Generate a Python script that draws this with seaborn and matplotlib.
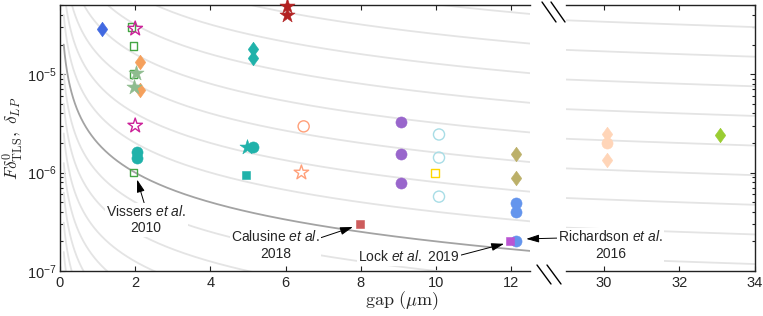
"""
Loss tangent vs. gap width, with a broken x axis.
Background curves are delta ~ level / gap guide lines.
"""

import matplotlib
matplotlib.use('Agg')
import matplotlib.pyplot as plt
from matplotlib.lines import Line2D
import seaborn as sns
import numpy as np
import pandas as pd

# ============================================
# DATA
# ============================================

# guide curves: delta = level / gap  (level in um)
CURVE_LEVELS = [7.8e-9, 1.56e-8, 3.1e-8, 6.25e-8, 1.25e-7, 2.5e-7, 5e-7, 1e-6,
                2e-6, 4e-6, 8e-6, 1.6e-5, 3.2e-5, 6.4e-5, 1.28e-4, 2.56e-4,
                5.12e-4, 1.024e-3]
HIGHLIGHT_LEVEL = 2e-6

# diamonds
royal_dia_x, royal_dia_y = [1.12], [2.9e-5]
orange_dia_x, orange_dia_y = [2.12, 2.12], [1.33e-5, 6.9e-6]
teal_dia_x, teal_dia_y = [5.12, 5.12], [1.8e-5, 1.46e-5]
olive_dia_x, olive_dia_y = [12.12, 12.12], [1.55e-6, 8.9e-7]
peach_dia_x, peach_dia_y = [30.08, 30.08], [2.45e-6, 1.33e-6]
lime_dia_x, lime_dia_y = [33.08], [2.4e-6]

# stars
magenta_star_x, magenta_star_y = [2.0, 2.0], [2.9e-5, 3.0e-6]
sage_star_x, sage_star_y = [2.02, 1.98], [1.02e-5, 7.4e-6]
teal_star_x, teal_star_y = [4.98], [1.8e-6]
red_star_x, red_star_y = [6.03, 6.03], [4.9e-5, 4.0e-5]
salmon_star_x, salmon_star_y = [6.42], [1.0e-6]

# circles
teal_circ_x, teal_circ_y = [2.05, 2.05, 5.12], [1.63e-6, 1.42e-6, 1.8e-6]
salmon_circ_x, salmon_circ_y = [6.48], [2.95e-6]
purple_circ_x, purple_circ_y = [9.08, 9.08, 9.08], [3.24e-6, 1.53e-6, 7.9e-7]
pale_circ_x, pale_circ_y = [10.08, 10.08, 10.08], [2.44e-6, 1.42e-6, 5.7e-7]
cblue_circ_x, cblue_circ_y = [12.12, 12.12, 12.12], [4.9e-7, 3.95e-7, 2.0e-7]
peach_circ_x, peach_circ_y = [30.08], [2.0e-6]

# squares
green_sq_x, green_sq_y = [1.9, 1.95, 1.95, 1.95], [3.0e-5, 1.93e-5, 1.0e-5, 1.0e-6]
teal_sq_x, teal_sq_y = [4.96], [9.5e-7]
red_sq_x, red_sq_y = [7.97], [3.0e-7]
gold_sq_x, gold_sq_y = [9.97], [1.0e-6]
orchid_sq_x, orchid_sq_y = [11.97], [2.0e-7]

# ============================================
# STYLE
# ============================================

sns.set_style('ticks')
plt.rcParams['font.family'] = ['Liberation Sans', 'DejaVu Sans']
plt.rcParams['mathtext.fontset'] = 'custom'
plt.rcParams['mathtext.rm'] = 'Liberation Sans'
plt.rcParams['mathtext.it'] = 'Liberation Sans:italic'
plt.rcParams['mathtext.bf'] = 'Liberation Sans:bold'
plt.rcParams['axes.edgecolor'] = '#222222'
plt.rcParams['axes.linewidth'] = 1.0

DIAMOND = [(0, 1), (0.72, 0), (0, -1), (-0.72, 0), (0, 1)]
LIGHT = '#e4e4e4'
DARK = '#a3a3a3'

# (x, y, marker, size, color, filled)
SERIES = [
    (royal_dia_x, royal_dia_y, DIAMOND, 110, '#4169e1', True),
    (orange_dia_x, orange_dia_y, DIAMOND, 110, '#f5a05c', True),
    (teal_dia_x, teal_dia_y, DIAMOND, 110, '#20b2aa', True),
    (olive_dia_x, olive_dia_y, DIAMOND, 110, '#bcb069', True),
    (peach_dia_x, peach_dia_y, DIAMOND, 110, '#ffd5b8', True),
    (lime_dia_x, lime_dia_y, DIAMOND, 110, '#9acd32', True),
    (green_sq_x, green_sq_y, 's', 30, '#44a544', False),
    (magenta_star_x, magenta_star_y, '*', 120, '#cc2299', False),
    (sage_star_x, sage_star_y, '*', 130, '#8fbc8f', True),
    (teal_circ_x, teal_circ_y, 'o', 64, '#20b2aa', True),
    (teal_star_x, teal_star_y, '*', 130, '#20b2aa', True),
    (teal_sq_x, teal_sq_y, 's', 36, '#20b2aa', True),
    (red_star_x, red_star_y, '*', 130, '#b22222', True),
    (salmon_star_x, salmon_star_y, '*', 120, '#ffa07a', False),
    (salmon_circ_x, salmon_circ_y, 'o', 64, '#ffa07a', False),
    (red_sq_x, red_sq_y, 's', 40, '#cd5c5c', True),
    (purple_circ_x, purple_circ_y, 'o', 64, '#9966cc', True),
    (pale_circ_x, pale_circ_y, 'o', 64, '#a8dde6', False),
    (gold_sq_x, gold_sq_y, 's', 32, '#ffd700', False),
    (cblue_circ_x, cblue_circ_y, 'o', 64, '#6495ed', True),
    (orchid_sq_x, orchid_sq_y, 's', 40, '#ba55d3', True),
    (peach_circ_x, peach_circ_y, 'o', 64, '#ffd5b8', True),
]


def curve_frame(gap):
    rows = []
    for level in CURVE_LEVELS:
        rows.append(pd.DataFrame({'gap': gap, 'delta': level / gap, 'level': level}))
    return pd.concat(rows, ignore_index=True)


def draw_panel(ax, gap, clip):
    ax.set_yscale('log')
    df = curve_frame(gap)
    sns.lineplot(data=df[df['level'] != HIGHLIGHT_LEVEL], x='gap', y='delta',
                 units='level', estimator=None, color=LIGHT, lw=1.3,
                 ax=ax, zorder=1, legend=False)
    sns.lineplot(data=df[df['level'] == HIGHLIGHT_LEVEL], x='gap', y='delta',
                 estimator=None, color=DARK, lw=1.3, ax=ax, zorder=2, legend=False)
    for xs, ys, m, s, c, filled in SERIES:
        sns.scatterplot(x=xs, y=ys, ax=ax, marker=m, s=s, color=c,
                        facecolor=c if filled else 'none', edgecolor=c,
                        linewidth=0.4 if filled else 1.0, zorder=3,
                        clip_on=clip, legend=False)
    ax.set_ylim(1e-7, 5.05e-5)
    ax.set_xlabel('')
    ax.set_ylabel('')
    ax.tick_params(which='both', direction='in', top=True, labelsize=10.5,
                   width=0.8, color='#222222')
    ax.tick_params(which='major', length=3.8)
    ax.tick_params(which='minor', length=2.2)
    ax.tick_params(axis='y', pad=2.5)


fig = plt.figure(figsize=(7.63, 3.16), dpi=100)
W, H = 763, 316
ax = fig.add_axes([60 / W, 1 - 271 / H, 470 / W, 266 / H])
axr = fig.add_axes([566 / W, 1 - 271 / H, 189 / W, 266 / H])
ax.set_xlim(0, 12.5)
axr.set_xlim(29, 34)

draw_panel(ax, np.geomspace(0.1, 12.5, 500), clip=False)
draw_panel(axr, np.linspace(29, 34, 60), clip=True)
ax.set_xlim(0, 12.5)
axr.set_xlim(29, 34)

ax.set_xticks([0, 2, 4, 6, 8, 10, 12])
ax.spines['right'].set_visible(False)
ax.tick_params(which='both', right=False)

axr.set_xticks([30, 32, 34])
axr.spines['left'].set_visible(False)
axr.tick_params(which='both', left=False, right=True, labelleft=False, labelright=False)

ax.set_ylabel(r'$F\delta^0_{\mathrm{TLS}},\ \delta_{LP}$', fontsize=12.5,
              math_fontfamily='cm')
ax.yaxis.set_label_coords(-0.074, 0.5)
fig.text(402 / W, 1 - 301 / H, r'$\mathrm{gap}\ (\mu\mathrm{m})$', fontsize=13,
         math_fontfamily='cm', ha='center', va='center')

# annotations
box = dict(boxstyle='square,pad=0.1', fc='white', ec='none')


def arrow(relpos):
    return dict(arrowstyle='-|>,head_length=0.55,head_width=0.17', color='black',
                lw=0.7, mutation_scale=14, shrinkA=0, shrinkB=0, relpos=relpos)


ax.annotate('Vissers $\\mathit{et\\ al.}$\n2010', xy=(2.05, 8.5e-7), xytext=(2.29, 3.32e-7),
            ha='center', va='center', fontsize=10, bbox=box, arrowprops=arrow((0.48, 1.0)),
            zorder=4)
ax.annotate('Calusine $\\mathit{et\\ al.}$\n2018', xy=(7.79, 2.8e-7), xytext=(5.73, 1.84e-7),
            ha='center', va='center', fontsize=10, bbox=box, arrowprops=arrow((1.0, 0.72)),
            zorder=4)
ax.annotate('Lock $\\mathit{et\\ al.}$ 2019', xy=(11.81, 1.89e-7), xytext=(9.28, 1.39e-7),
            ha='center', va='center', fontsize=10, bbox=box, arrowprops=arrow((1.0, 0.6)),
            zorder=4)
axr.annotate('Richardson $\\mathit{et\\ al.}$\n2016', xy=(12.4, 2.12e-7), xycoords=ax.transData,
             xytext=(30.18, 1.84e-7), textcoords='data', ha='center', va='center',
             fontsize=10, bbox=box, arrowprops=arrow((0.0, 0.72)), annotation_clip=False,
             zorder=4)

# axis break marks
for x0, y0, x1, y1 in [(542, 2, 556, 22), (551, 2, 565, 22),
                       (537, 265, 551, 284), (547, 265, 561, 284)]:
    fig.add_artist(Line2D([x0 / W, x1 / W], [1 - y0 / H, 1 - y1 / H],
                          color='black', lw=1.0))

plt.savefig('out.png', dpi=100, facecolor='white')
plt.close()
